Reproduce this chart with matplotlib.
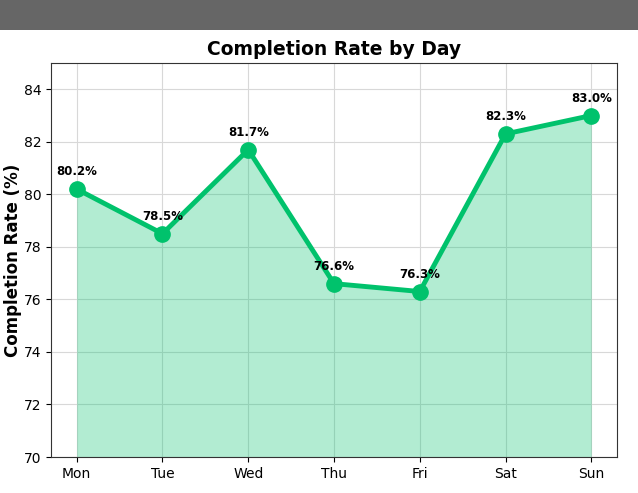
import matplotlib.pyplot as plt
import matplotlib.patches as mpatches

days = ['Mon', 'Tue', 'Wed', 'Thu', 'Fri', 'Sat', 'Sun']
rates = [80.2, 78.5, 81.7, 76.6, 76.3, 82.3, 83.0]

green = '#00c26c'

fig = plt.figure(figsize=(6.38, 4.93), dpi=100)
# dark header strip across the top
fig.patches.append(mpatches.Rectangle((0, 1 - 30 / 493), 1, 30 / 493, transform=fig.transFigure,
                                      facecolor='#666666', edgecolor='none', zorder=0))
ax = fig.add_axes([51 / 638, 36 / 493, 566 / 638, 394 / 493])

x = list(range(len(days)))
ax.fill_between(x, rates, 70, color=green, alpha=0.3, linewidth=0)
ax.plot(x, rates, color=green, linewidth=3.5, marker='o', markersize=11, zorder=3)

for xi, r in zip(x, rates):
    ax.annotate(f'{r:.1f}%', (xi, r), textcoords='offset points', xytext=(0, 10),
                ha='center', fontsize=8.5, fontweight='bold')

ax.set_xticks(x)
ax.set_xticklabels(days)
ax.set_xlim(-0.3, 6.3)
ax.set_ylim(70, 85)
ax.set_yticks([70, 72, 74, 76, 78, 80, 82, 84])
ax.tick_params(axis='both', labelsize=10)
ax.grid(True, color='#d8d8d8', linewidth=0.8)
ax.set_axisbelow(True)
for s in ax.spines.values():
    s.set_color('#333333')

ax.set_ylabel('Completion Rate (%)', fontsize=12, fontweight='bold', labelpad=1)
ax.set_title('Completion Rate by Day', fontsize=13.5, fontweight='bold', pad=6)

plt.savefig('out.png', dpi=100)
